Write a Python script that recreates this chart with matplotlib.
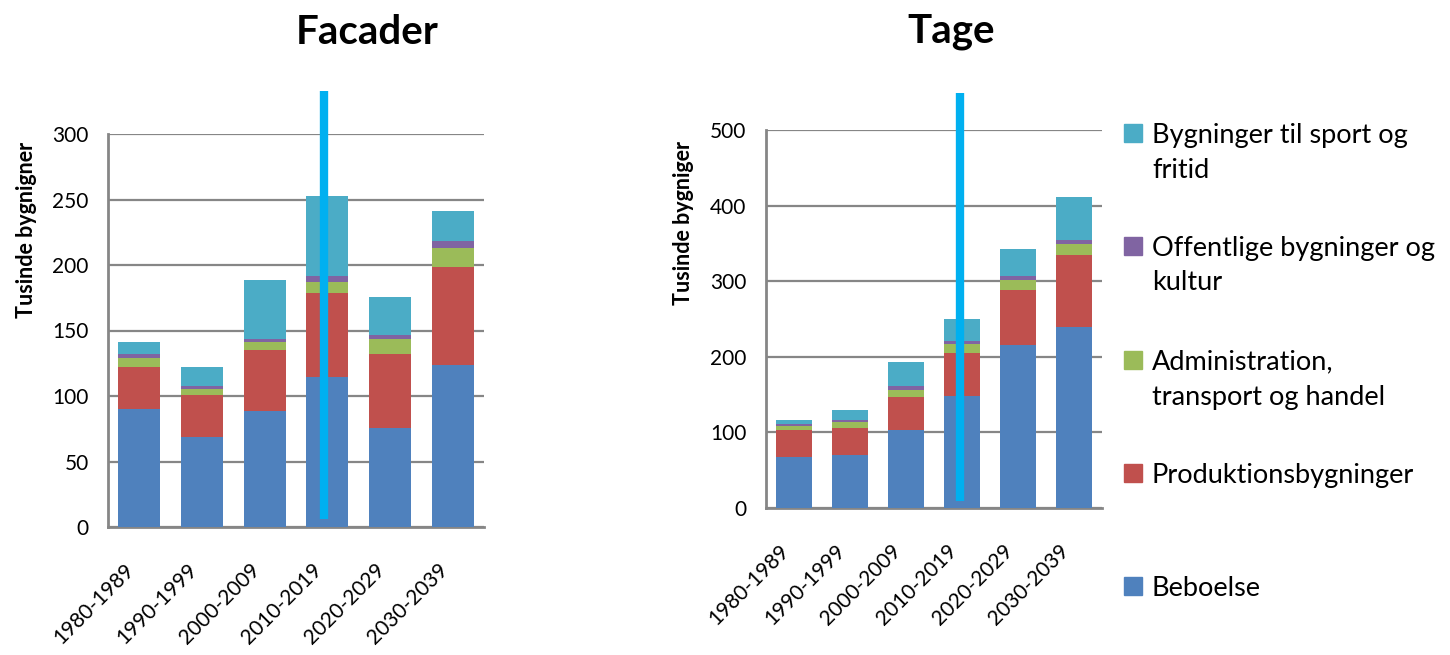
import matplotlib.pyplot as plt
import matplotlib.patches as mpatches
import matplotlib.transforms as mtransforms
import numpy as np

plt.rcParams['font.family'] = ['Lato', 'DejaVu Sans']

# DATA
periods = ["1980-1989", "1990-1999", "2000-2009", "2010-2019", "2020-2029", "2030-2039"]
categories = ["Beboelse", "Produktionsbygninger", "Administration, transport og handel",
              "Offentlige bygninger og kultur", "Bygninger til sport og fritid"]
legend_lines = [["Beboelse"], ["Produktionsbygninger"], ["Administration,", "transport og handel"],
                ["Offentlige bygninger og", "kultur"], ["Bygninger til sport og", "fritid"]]
colors = ["#4F81BD", "#C0504D", "#9BBB59", "#8064A2", "#4BACC6"]

# facader (tusinde bygninger)
fac_beboelse = [90, 69, 88.5, 114.5, 75.3, 123.7]
fac_produktion = [32, 32, 46.5, 64, 56.5, 74.5]
fac_admin = [7, 4, 6, 8.4, 11.5, 14.5]
fac_offentlig = [3, 3, 2.3, 4.6, 3.3, 6]
fac_sport = [9, 14, 45, 61, 28.7, 22.3]

# tage (tusinde bygninger)
tag_beboelse = [67, 70, 103, 148, 215.5, 239]
tag_produktion = [36, 36, 43.5, 56.5, 73, 95.5]
tag_admin = [5, 8, 9.5, 13, 13, 14.5]
tag_offentlig = [2.5, 2.5, 5, 4, 5.5, 5.5]
tag_sport = [5.5, 13, 32, 29, 35.5, 57]

# lodret markering (x i bar-enheder, y-interval)
fac_marker_x = 2.94
fac_marker_y = [6, 333]
tag_marker_x = 2.96
tag_marker_y = [9, 549]

fig = plt.figure(figsize=(14.5, 6.55), dpi=100)
W, H = 1450, 655


def px_axes(x0, y0, x1, y1):
    return fig.add_axes([x0 / W, 1 - y1 / H, (x1 - x0) / W, (y1 - y0) / H])


def stacked(ax, series, ymax, step, width, mx, my):
    x = np.arange(len(periods))
    bottom = np.zeros(len(periods))
    for vals, c in zip(series, colors):
        ax.bar(x, vals, width, bottom=bottom, color=c, zorder=3)
        bottom += np.array(vals)
    ax.set_xlim(-0.5, len(periods) - 0.5)
    ax.set_ylim(0, ymax)
    ax.set_yticks(np.arange(0, ymax + 1, step))
    ax.yaxis.grid(True, color="#868686", linewidth=1.6, zorder=0)
    ax.set_axisbelow(True)
    for s in ["top", "right"]:
        ax.spines[s].set_visible(False)
    for s in ["left", "bottom"]:
        ax.spines[s].set_color("#868686")
        ax.spines[s].set_linewidth(2)
    ax.tick_params(axis="both", length=0, labelsize=15)
    ax.tick_params(axis="y", pad=14)
    ax.set_xticks(x)
    ax.set_xticklabels(periods, rotation=45, ha="right", rotation_mode="anchor")
    offset = mtransforms.ScaledTranslation(-11 / 72, -20 / 72, fig.dpi_scale_trans)
    for lab in ax.get_xticklabels():
        lab.set_transform(lab.get_transform() + offset)
    ax.plot([mx, mx], my, color="#00B0F0", linewidth=6, zorder=5,
            clip_on=False, solid_capstyle="butt")


ax1 = px_axes(108, 134, 484, 527)
stacked(ax1, [fac_beboelse, fac_produktion, fac_admin, fac_offentlig, fac_sport],
        300, 50, 0.675, fac_marker_x, fac_marker_y)

ax2 = px_axes(766, 130, 1102, 508)
stacked(ax2, [tag_beboelse, tag_produktion, tag_admin, tag_offentlig, tag_sport],
        500, 100, 0.66, tag_marker_x, tag_marker_y)

# titler og aksetitler
fig.text(367 / W, 1 - 33 / H, "Facader", fontsize=29, fontweight="bold", ha="center", va="center")
fig.text(951 / W, 1 - 31 / H, "Tage", fontsize=29, fontweight="bold", ha="center", va="center")
fig.text(27 / W, 1 - 230 / H, "Tusinde bygnigner", fontsize=15.5, fontweight="bold",
         rotation=90, ha="center", va="center")
fig.text(683 / W, 1 - 223 / H, "Tusinde bygniger", fontsize=15.5, fontweight="bold",
         rotation=90, ha="center", va="center")

# legende, bygget som i originalen (oeverste serie foerst)
leg_y = [133, 246, 360, 473, 586]
for lines, c, y in zip(legend_lines[::-1], colors[::-1], leg_y):
    fig.add_artist(mpatches.Rectangle((1124 / W, 1 - (y + 9) / H), 18 / W, 18 / H,
                                      transform=fig.transFigure, color=c))
    for i, line in enumerate(lines):
        fig.text(1152 / W, 1 - (y + 2 + 35 * i) / H, line, fontsize=19.5, va="center")

fig.savefig("out.png", dpi=100)
